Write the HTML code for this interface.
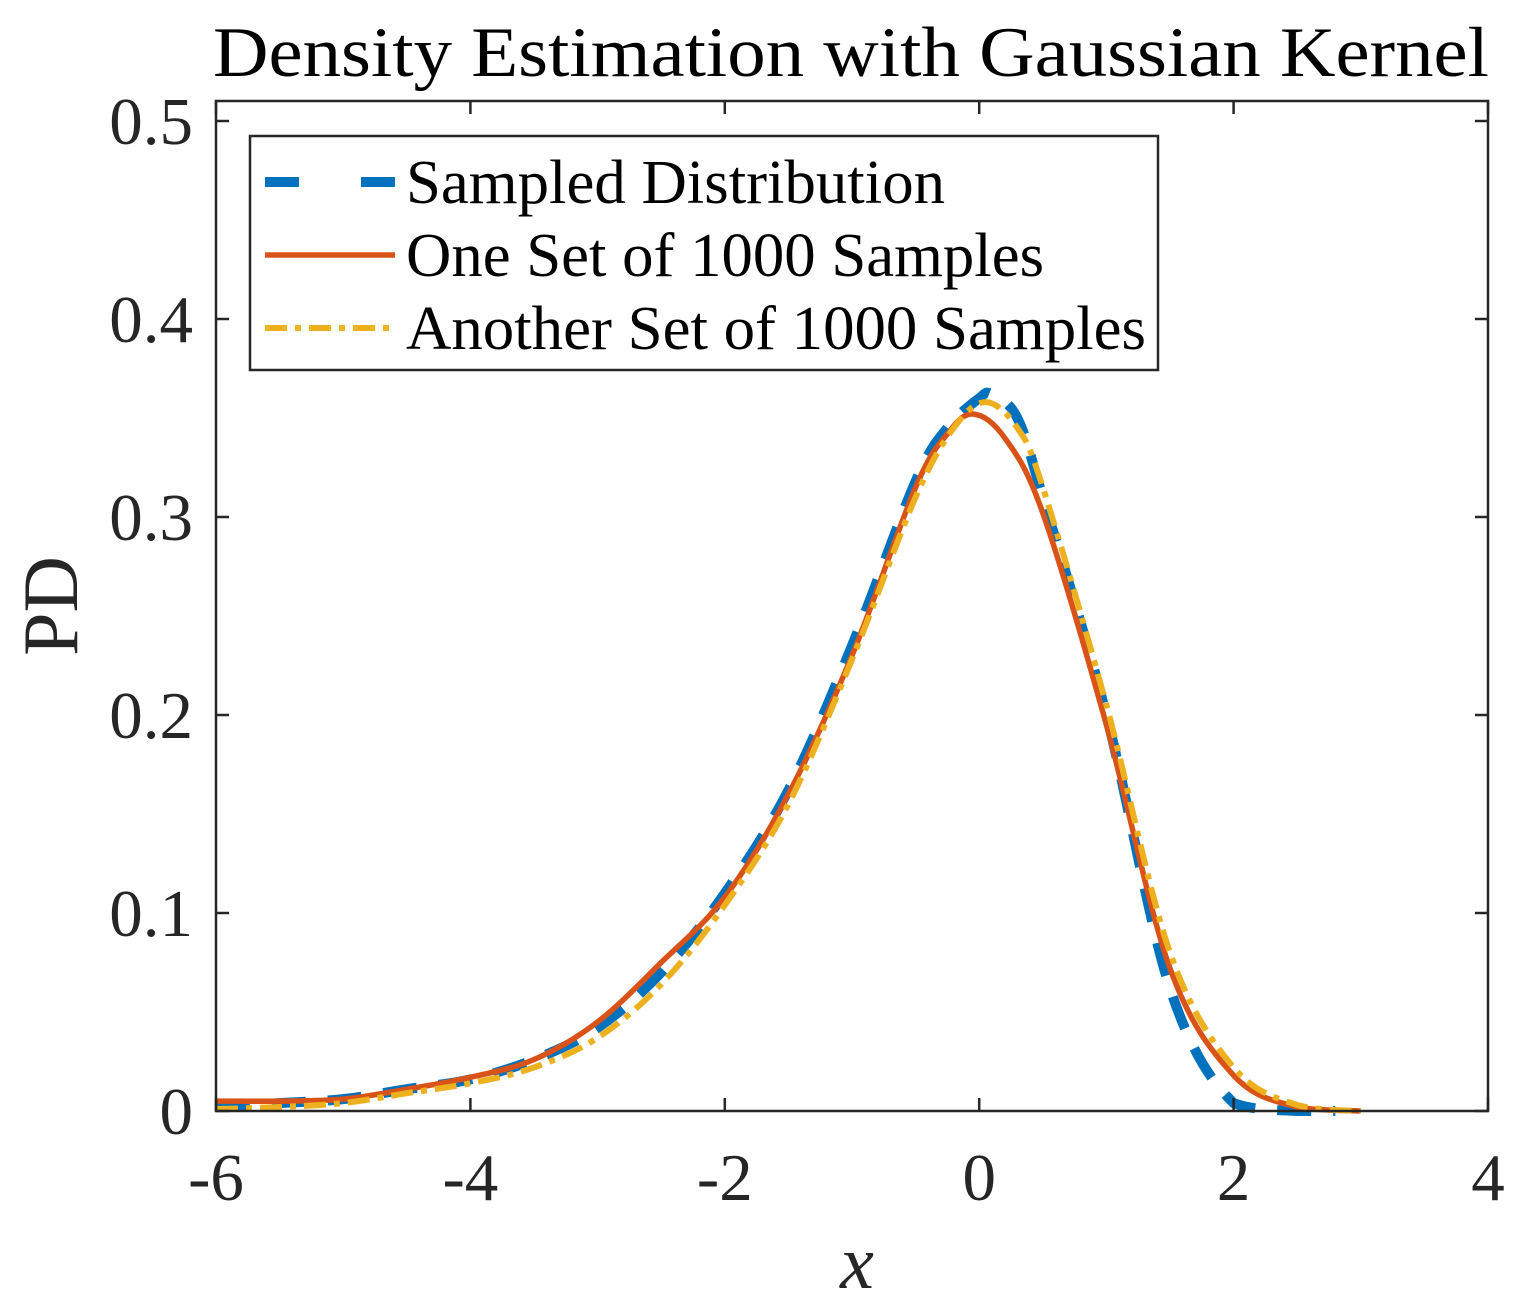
<!DOCTYPE html>
<html><head><meta charset="utf-8"><style>
html,body{margin:0;padding:0;background:#fff;}
svg{display:block;font-family:"Liberation Serif",serif;}
</style></head><body>
<svg id="chart" width="1520" height="1315" viewBox="0 0 1520 1315">
<rect x="0" y="0" width="1520" height="1315" fill="#fff"/>
<text x="851" y="76" font-size="71" text-anchor="middle" fill="#000" textLength="1276" lengthAdjust="spacingAndGlyphs">Density Estimation with Gaussian Kernel</text>
<g id="series"></g>
<rect x="216" y="101" width="1272" height="1010" fill="none" stroke="#262626" stroke-width="2.5"/>
<g id="ticks"></g>
<text transform="translate(77,606) rotate(-90)" font-size="78" text-anchor="middle" fill="#262626">PD</text>
<text x="857" y="1288" font-size="76" font-style="italic" text-anchor="middle" fill="#262626">x</text>
<g>
<rect x="250" y="136" width="908" height="234" fill="#fff" stroke="#262626" stroke-width="2.5"/>
<line x1="265" y1="182" x2="395" y2="182" stroke="#0072BD" stroke-width="10" stroke-dasharray="34,62,34"/>
<text x="406" y="203" font-size="62" fill="#000" textLength="539" lengthAdjust="spacingAndGlyphs">Sampled Distribution</text>
<line x1="265" y1="255" x2="395" y2="255" stroke="#D95319" stroke-width="5.5"/>
<text x="406" y="276" font-size="62" fill="#000" textLength="638" lengthAdjust="spacingAndGlyphs">One Set of 1000 Samples</text>
<line x1="265" y1="328" x2="395" y2="328" stroke="#EDB120" stroke-width="6" stroke-dasharray="22,8,6,8"/>
<text x="406" y="349" font-size="62" fill="#000" textLength="740" lengthAdjust="spacingAndGlyphs">Another Set of 1000 Samples</text>
</g>
</svg>
<script>
const xTicks=[-6,-4,-2,0,2,4];
const yTicks=[0,0.1,0.2,0.3,0.4,0.5];
const yTickLabels=["0","0.1","0.2","0.3","0.4","0.5"];
const sampledX=[-6,-5.5,-5,-4.5,-4,-3.5,-3,-2.5,-2,-1.5,-1,-0.5,-0.25,0,0.1,0.3,0.5,1,1.5,2,2.5,2.8];
const sampledY=[0.002,0.004,0.006,0.011,0.016,0.026,0.042,0.07,0.11,0.162,0.235,0.318,0.345,0.36,0.362,0.35,0.31,0.2,0.062,0.004,0,0];
const oneX=[-6,-5.5,-5,-4.5,-4,-3.5,-3,-2.5,-2,-1.5,-1,-0.5,-0.25,-0.05,0.2,0.5,1,1.5,2,2.5,3];
const oneY=[0.005,0.005,0.006,0.011,0.017,0.026,0.045,0.075,0.108,0.16,0.23,0.315,0.342,0.352,0.34,0.302,0.195,0.072,0.018,0.002,0];
const anotherX=[-6,-5.5,-5,-4.5,-4,-3.5,-3,-2.5,-2,-1.5,-1,-0.5,-0.2,0.05,0.3,0.5,1,1.5,2,2.5,3];
const anotherY=[0.001,0.002,0.004,0.009,0.014,0.022,0.037,0.064,0.104,0.155,0.228,0.31,0.345,0.358,0.345,0.315,0.205,0.08,0.022,0.003,0];
const NS='http://www.w3.org/2000/svg';
const xs=v=>216+(v+6)*127.2;
const ys=v=>1111-v*1980;
function pathFor(X,Y){
  const p=X.map((x,i)=>[xs(x),ys(Y[i])]);
  let d='M'+p[0][0]+','+p[0][1];
  for(let i=0;i<p.length-1;i++){
    const p0=p[Math.max(0,i-1)],p1=p[i],p2=p[i+1],p3=p[Math.min(p.length-1,i+2)];
    const c1=[p1[0]+(p2[0]-p0[0])/6,Math.min(1111,p1[1]+(p2[1]-p0[1])/6)];
    const c2=[p2[0]-(p3[0]-p1[0])/6,Math.min(1111,p2[1]-(p3[1]-p1[1])/6)];
    d+=' C'+c1+' '+c2+' '+p2;
  }
  return d;
}
const g=document.getElementById('series');
function addLine(X,Y,color,w,dash,name){
  const el=document.createElementNS(NS,'path');
  el.setAttribute('d',pathFor(X,Y));
  el.setAttribute('fill','none');
  el.setAttribute('stroke',color);
  el.setAttribute('stroke-width',w);
  if(dash)el.setAttribute('stroke-dasharray',dash);
  
  
  g.appendChild(el);
}
addLine(sampledX,sampledY,'#0072BD',10,'34,22','line-sampled-distribution');
addLine(oneX,oneY,'#D95319',5.5,null,'line-one-set');
addLine(anotherX,anotherY,'#EDB120',6,'22,8,6,8','line-another-set');
const t=document.getElementById('ticks');
xTicks.forEach(v=>{
  const x=xs(v);
  [[1111,1098],[101,114]].forEach(a=>{
    const l=document.createElementNS(NS,'line');
    l.setAttribute('x1',x);l.setAttribute('x2',x);l.setAttribute('y1',a[0]);l.setAttribute('y2',a[1]);
    l.setAttribute('stroke','#262626');l.setAttribute('stroke-width','2.5');
    
    
    t.appendChild(l);
  });
  const tx=document.createElementNS(NS,'text');
  tx.setAttribute('x',x);tx.setAttribute('y',1200);tx.setAttribute('font-size','67');
  tx.setAttribute('text-anchor','middle');tx.setAttribute('fill','#262626');
  tx.textContent=String(v);
  
  
  t.appendChild(tx);
});
yTicks.forEach((v,i)=>{
  const y=ys(v);
  [[216,229],[1488,1475]].forEach(a=>{
    const l=document.createElementNS(NS,'line');
    l.setAttribute('x1',a[0]);l.setAttribute('x2',a[1]);l.setAttribute('y1',y);l.setAttribute('y2',y);
    l.setAttribute('stroke','#262626');l.setAttribute('stroke-width','2.5');
    
    
    t.appendChild(l);
  });
  const tx=document.createElementNS(NS,'text');
  tx.setAttribute('x',193);tx.setAttribute('y',y+23);tx.setAttribute('font-size','67');
  tx.setAttribute('text-anchor','end');tx.setAttribute('fill','#262626');
  tx.textContent=yTickLabels[i];
  
  
  t.appendChild(tx);
});
</script>
</body></html>
